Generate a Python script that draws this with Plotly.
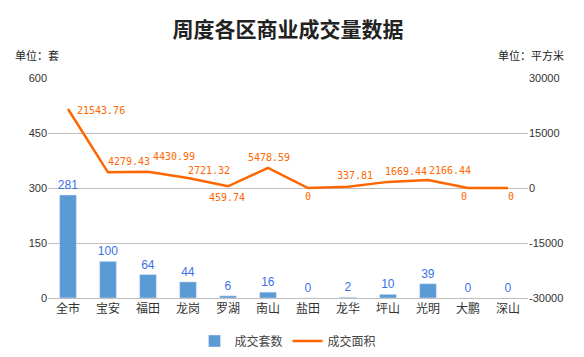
import plotly.graph_objects as go

categories = ["全市", "宝安", "福田", "龙岗", "罗湖", "南山", "盐田", "龙华", "坪山", "光明", "大鹏", "深山"]
units = [281, 100, 64, 44, 6, 16, 0, 2, 10, 39, 0, 0]
area = [21543.76, 4279.43, 4430.99, 2721.32, 459.74, 5478.59, 0, 337.81, 1669.44, 2166.44, 0, 0]
area_text = ["21543.76", "4279.43", "4430.99", "2721.32", "459.74", "5478.59", "0", "337.81", "1669.44", "2166.44", "0", "0"]
left_ticks = [0, 150, 300, 450, 600]
right_ticks = [-30000, -15000, 0, 15000, 30000]

# label offsets (style only)
lab_dx = [33, 21, 26, 21, -1, 1, 0, 7, 18, 22, -4, 3]
lab_dy = [-1, 11, 15, 8, -11, 10, -8, 11, 10, 10, -8, -8]

font = "Noto Sans CJK SC"
num_font = "Liberation Sans"

fig = go.Figure()
fig.add_trace(go.Bar(
    x=categories, y=units, name="成交套数", marker_color="#5b9bd5", width=0.42,
    text=[str(v) for v in units], textposition="outside", cliponaxis=False, constraintext="none",
    textfont=dict(color="#3a6fe8", size=12, family=num_font),
))
fig.add_trace(go.Scatter(
    x=categories, y=area, name="成交面积", yaxis="y2", mode="lines",
    line=dict(color="#ff6600", width=2.5), cliponaxis=False,
))

for c, v, t, dx, dy in zip(categories, area, area_text, lab_dx, lab_dy):
    fig.add_annotation(x=c, y=v, xref="x", yref="y2", text=t, showarrow=False,
                       xanchor="center", yanchor="middle", xshift=dx, yshift=dy,
                       font=dict(color="#ff6600", size=10, family="DejaVu Sans Mono"))

fig.update_layout(
    width=584, height=357,
    margin=dict(l=48, r=56, t=78, b=59, autoexpand=False),
    paper_bgcolor="white", plot_bgcolor="white",
    font=dict(family=font, color="#333"),
    title=dict(text="<b>周度各区商业成交量数据</b>", x=0.5, xanchor="center", xref="paper",
               y=1 - 30 / 357, yanchor="middle", yref="container",
               font=dict(size=21, color="#222", family=font)),
    showlegend=True,
    legend=dict(orientation="h", x=0.5, xanchor="center", y=-(341 - 298) / 220, yanchor="middle",
                font=dict(size=12, color="#444", family=font), traceorder="normal"),
    xaxis=dict(tickfont=dict(size=12, color="#333", family=font), showline=True, linecolor="#bfbfbf",
               ticks="", showgrid=False, automargin=False),
    yaxis=dict(range=[0, 600], tickvals=left_ticks, showgrid=True, gridcolor="#c0c0c0",
               tickfont=dict(size=11, color="#333", family=num_font), zeroline=False, ticks="",
               automargin=False),
    yaxis2=dict(range=[-30000, 30000], tickvals=right_ticks, ticktext=[str(v) for v in right_ticks],
                overlaying="y", side="right", showgrid=False,
                tickfont=dict(size=11, color="#333", family=num_font), zeroline=False, ticks="",
                automargin=False),
)
fig.add_annotation(text="单位：套", xref="paper", yref="paper", x=-35 / 480, y=(298 - 55) / 220,
                   xanchor="left", yanchor="middle", showarrow=False,
                   font=dict(size=11, color="#222", family=font))
fig.add_annotation(text="单位：平方米", xref="paper", yref="paper", x=1 + 38 / 480, y=(298 - 55) / 220,
                   xanchor="right", yanchor="middle", showarrow=False,
                   font=dict(size=11, color="#222", family=font))

fig.write_html("out.html", config={"displayModeBar": False},
               post_script="document.body.style.margin='0';document.body.style.overflow='hidden';")
